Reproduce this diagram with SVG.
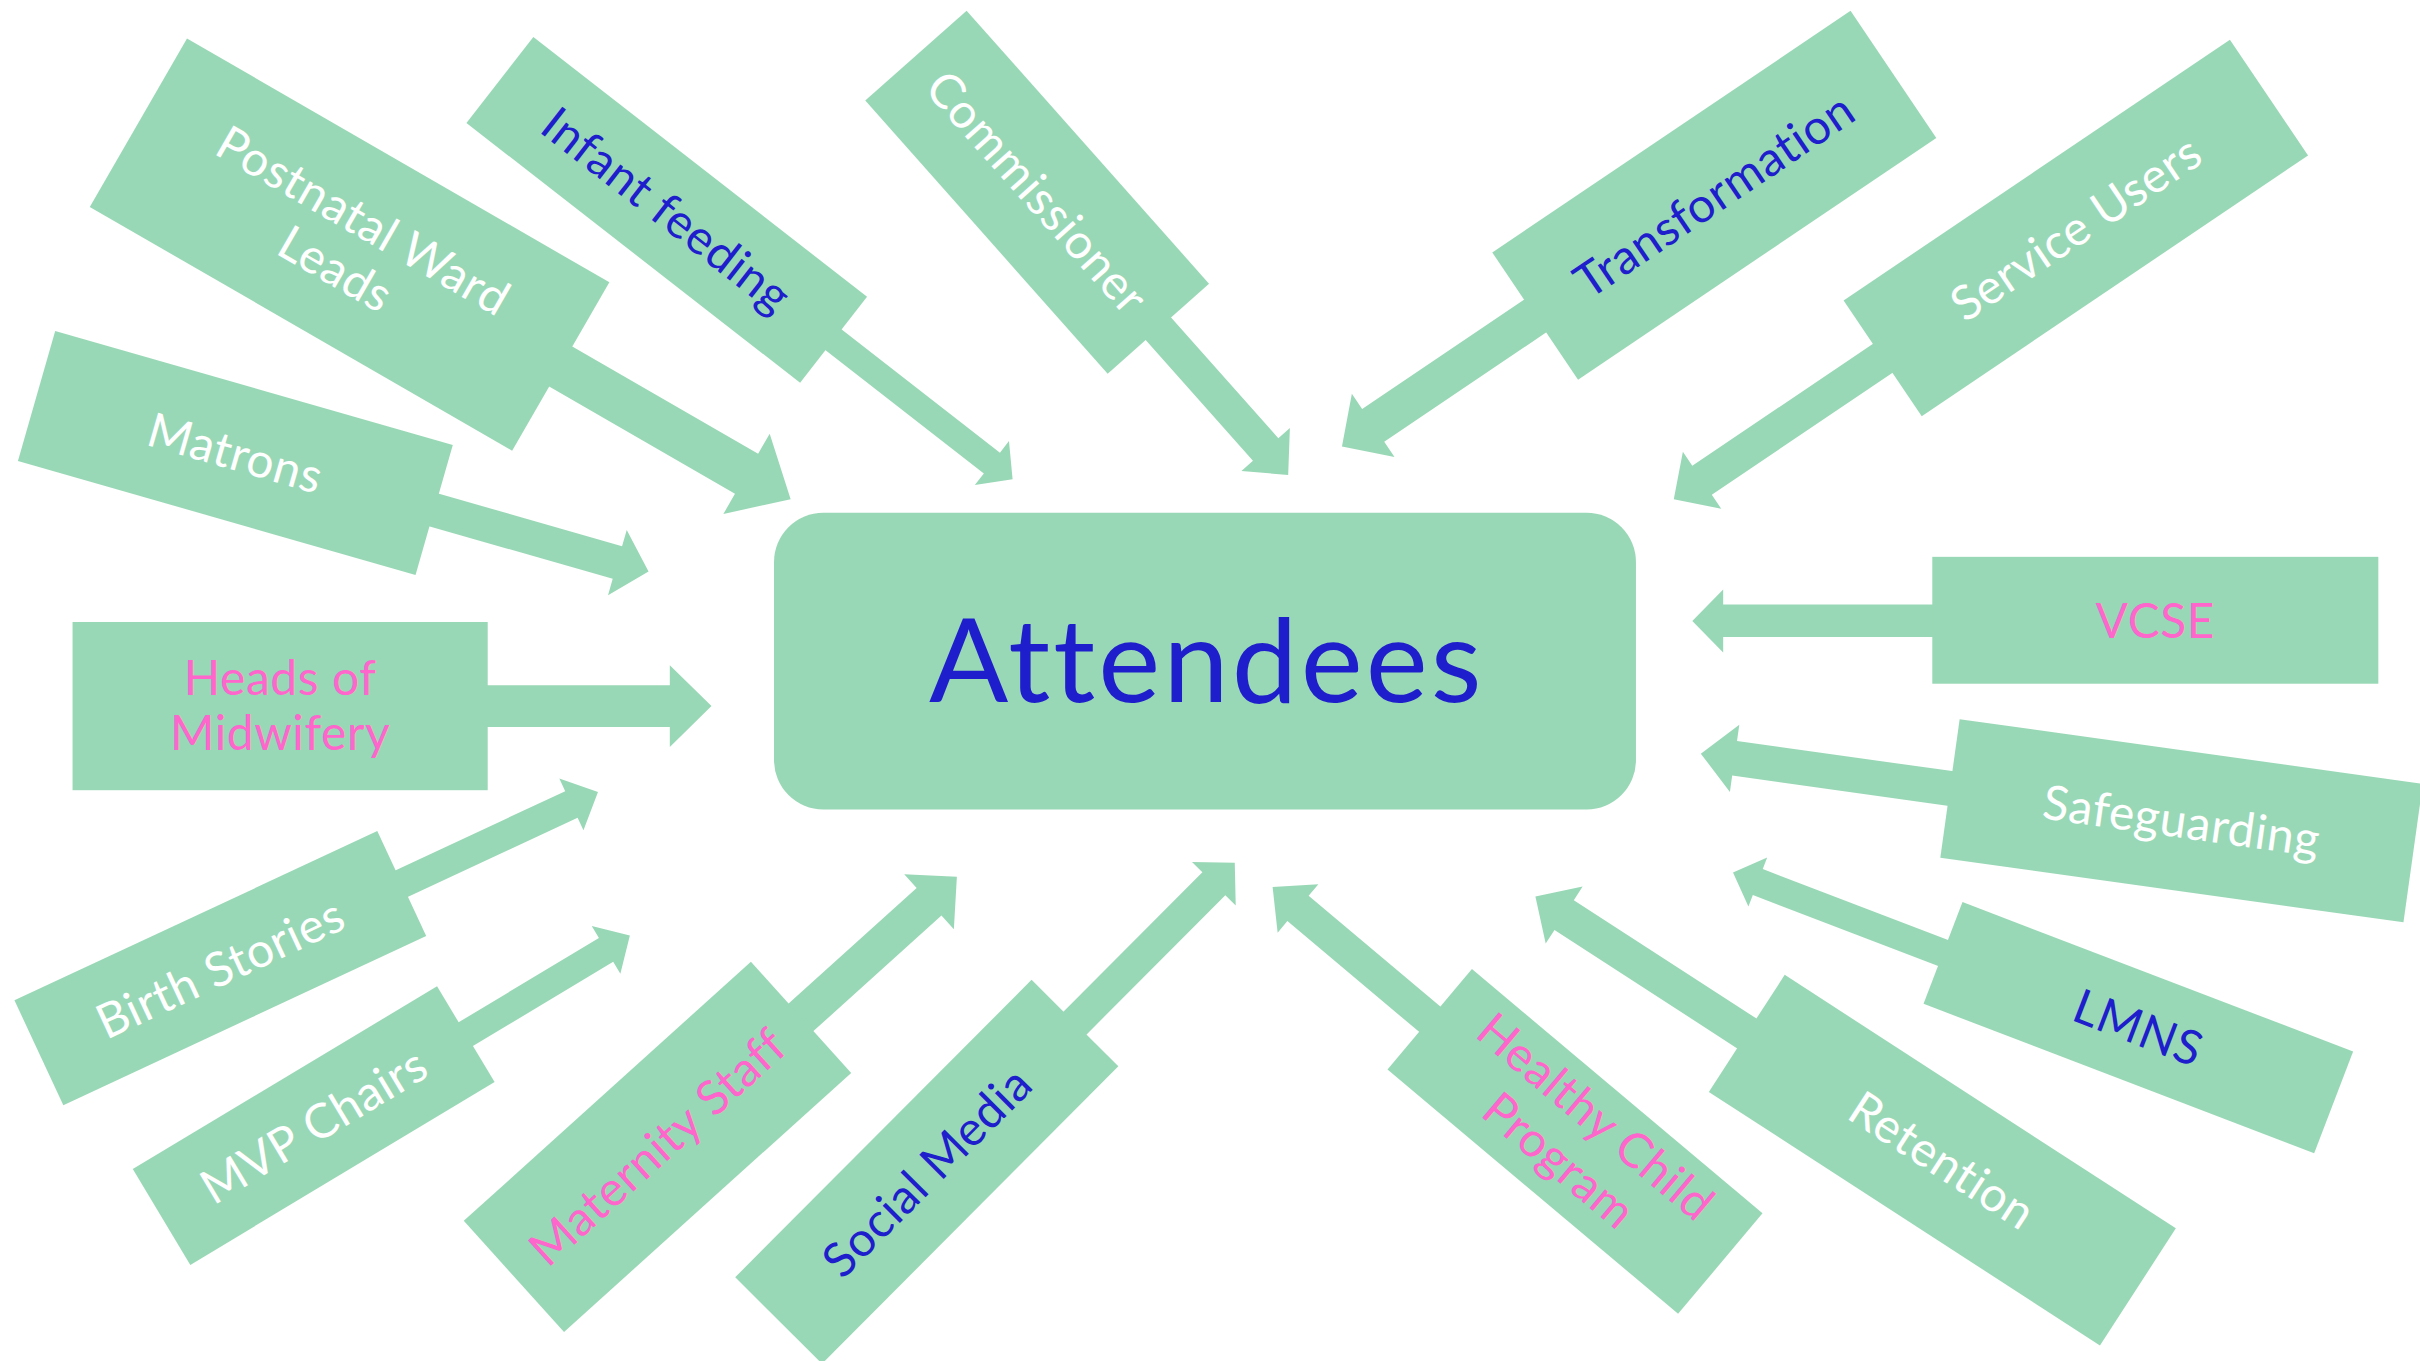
<svg xmlns="http://www.w3.org/2000/svg" width="2420" height="1361" viewBox="0 0 2420 1361">
<style>
.box{fill:#99D8B6}
.arr{fill:#99D8B6}
text{font-variant-ligatures:none}
.lbl{font-family:Lato,"Open Sans","DejaVu Sans",sans-serif;font-size:31px;font-weight:400;letter-spacing:0.4px;text-anchor:middle}
.w{fill:#FFFFFF}
.b{fill:#1E1ECC}
.p{fill:#FF66CC}
</style>
<rect width="2420" height="1361" fill="#FFFFFF"/>
<g transform="scale(1.54337)">
<g id="connectors">
<polygon class="arr" transform="translate(226.5,158.5) rotate(30)" points="157,-15 297,-15 297,-30 330,0 297,30 297,15 157,15"/>
<polygon class="arr" transform="translate(432,136) rotate(37.9)" points="136,-8.5 267,-8.5 267,-18 284,0 267,18 267,8.5 136,8.5"/>
<polygon class="arr" transform="translate(672,124.5) rotate(48.4)" points="117,-11 223,-11 223,-21 245,0 223,21 223,11 117,11"/>
<polygon class="arr" transform="translate(152.5,293.5) rotate(16)" points="133,-11 257.5,-11 257.5,-22 278.5,0 257.5,22 257.5,11 133,11"/>
<polygon class="arr" points="315,444 434,444 434,431 461,457.5 434,484 434,471 315,471"/>
<polygon class="arr" transform="translate(142.75,627.3) rotate(-25)" points="128.7,-9.5 251,-9.5 251,-18.5 270,0 251,18.5 251,9.5 128.7,9.5"/>
<polygon class="arr" transform="translate(203.25,729.3) rotate(-31)" points="114,-9 221,-9 221,-18 239,0 221,18 221,9 114,9"/>
<polygon class="arr" transform="translate(426,743.1) rotate(-42.06)" points="124.3,-12 237,-12 237,-24 261.3,0 237,24 237,12 124.3,12"/>
<polygon class="arr" transform="translate(600.5,759.25) rotate(-45.1)" points="135,-10.5 263.5,-10.5 263.5,-20 282.7,0 263.5,20 263.5,10.5 135,10.5"/>
<polygon class="arr" transform="translate(1020.5,739.55) rotate(40.06)" points="-122,-10.7 -234.5,-10.7 -234.5,-20.5 -256,0 -234.5,20.5 -234.5,10.7 -122,10.7"/>
<polygon class="arr" transform="translate(1258.5,751.7) rotate(32.95)" points="-150,-11.5 -292,-11.5 -292,-22 -314.2,0 -292,22 -292,11.5 -150,11.5"/>
<polygon class="arr" transform="translate(1385.5,665.85) rotate(20.94)" points="-134.5,-9 -264,-9 -264,-17 -281.2,0 -264,17 -264,9 -134.5,9"/>
<polygon class="arr" transform="translate(1413.5,531.8) rotate(7.95)" points="-150.5,-11.3 -292.4,-11.3 -292.4,-22 -314.5,0 -292.4,22 -292.4,11.3 -150.5,11.3"/>
<polygon class="arr" points="1253,391.7 1116.5,391.7 1116.5,381.9 1096.5,402.3 1116.5,422.7 1116.5,412.8 1253,412.8"/>
<polygon class="arr" transform="translate(1345,147.7) rotate(-34.02)" points="-150,-11.3 -292.2,-11.3 -292.2,-22.2 -314.3,0 -292.2,22.2 -292.2,11.3 -150,11.3"/>
<polygon class="arr" transform="translate(1110.75,126.5) rotate(-34)" points="-139,-12.8 -266.6,-12.8 -266.6,-24.7 -291,0 -266.6,24.7 -266.6,12.8 -139,12.8"/>
</g>
<g id="attendees">
<rect class="box" x="501.5" y="332.3" width="558.5" height="192.2" rx="32" ry="32"/>
<text x="781" y="454.6" font-family="Lato,'Open Sans',sans-serif" font-size="76" font-weight="400" text-anchor="middle" fill="#1E1ECC" textLength="358">Attendees</text>
</g>
<g id="postnatal" transform="translate(226.5,158.5) rotate(30)">
<rect class="box" x="-158" y="-63" width="316" height="126"/>
<text class="lbl w" x="0" y="-7">Postnatal Ward</text>
<text class="lbl w" x="0" y="29">Leads</text>
</g>
<g id="infant" transform="translate(432,136) rotate(37.9)">
<rect class="box" x="-137" y="-35.3" width="274" height="70.6"/>
<text class="lbl b" x="0" y="11">Infant feeding</text>
</g>
<g id="commissioner" transform="translate(672,124.5) rotate(48.4)">
<rect class="box" x="-118.3" y="-43.9" width="236.6" height="87.8"/>
<text class="lbl w" x="0" y="11">Commissioner</text>
</g>
<g id="matrons" transform="translate(152.5,293.5) rotate(16)">
<rect class="box" x="-134" y="-43.8" width="268" height="87.6"/>
<text class="lbl w" x="0" y="11">Matrons</text>
</g>
<g id="heads">
<rect class="box" x="47" y="403" width="269" height="109"/>
<text class="lbl p" x="181.5" y="450.3">Heads of</text>
<text class="lbl p" x="181.5" y="486">Midwifery</text>
</g>
<g id="birth" transform="translate(142.75,627.3) rotate(-25)">
<rect class="box" x="-129.7" y="-37.5" width="259.4" height="75"/>
<text class="lbl w" x="0" y="11">Birth Stories</text>
</g>
<g id="mvp" transform="translate(203.25,729.3) rotate(-31)">
<rect class="box" x="-115" y="-36.2" width="230" height="72.4"/>
<text class="lbl w" x="0" y="11">MVP Chairs</text>
</g>
<g id="maternity" transform="translate(426,743.1) rotate(-42.06)">
<rect class="box" x="-125.3" y="-48.5" width="250.6" height="97"/>
<text class="lbl p" x="0" y="11">Maternity Staff</text>
</g>
<g id="social" transform="translate(600.5,759.25) rotate(-45.1)">
<rect class="box" x="-136" y="-39.7" width="272" height="79.4"/>
<text class="lbl b" x="0" y="11">Social Media</text>
</g>
<g id="healthy" transform="translate(1020.5,739.55) rotate(40.06)">
<rect class="box" x="-123" y="-42.5" width="246" height="85"/>
<text class="lbl p" x="0" y="-10">Healthy Child</text>
<text class="lbl p" x="0" y="27">Program</text>
</g>
<g id="retention" transform="translate(1258.5,751.7) rotate(32.95)">
<rect class="box" x="-151" y="-45.2" width="302" height="90.4"/>
<text class="lbl w" x="0" y="11">Retention</text>
</g>
<g id="lmns" transform="translate(1385.5,665.85) rotate(20.94)">
<rect class="box" x="-135.5" y="-35.3" width="271" height="70.6"/>
<text class="lbl b" x="0" y="11">LMNS</text>
</g>
<g id="safeguarding" transform="translate(1413.5,531.8) rotate(7.95)">
<rect class="box" x="-151.5" y="-45.3" width="303" height="90.6"/>
<text class="lbl w" x="0" y="11">Safeguarding</text>
</g>
<g id="vcse">
<rect class="box" x="1252" y="360.8" width="289" height="82.2"/>
<text class="lbl p" x="1396.5" y="413.4">VCSE</text>
</g>
<g id="service" transform="translate(1345,147.7) rotate(-34.02)">
<rect class="box" x="-151" y="-45.25" width="302" height="90.5"/>
<text class="lbl w" x="0" y="11">Service Users</text>
</g>
<g id="transformation" transform="translate(1110.75,126.5) rotate(-34)">
<rect class="box" x="-140" y="-49.7" width="280" height="99.4"/>
<text class="lbl b" x="0" y="11">Transformation</text>
</g>
</g>
</svg>
